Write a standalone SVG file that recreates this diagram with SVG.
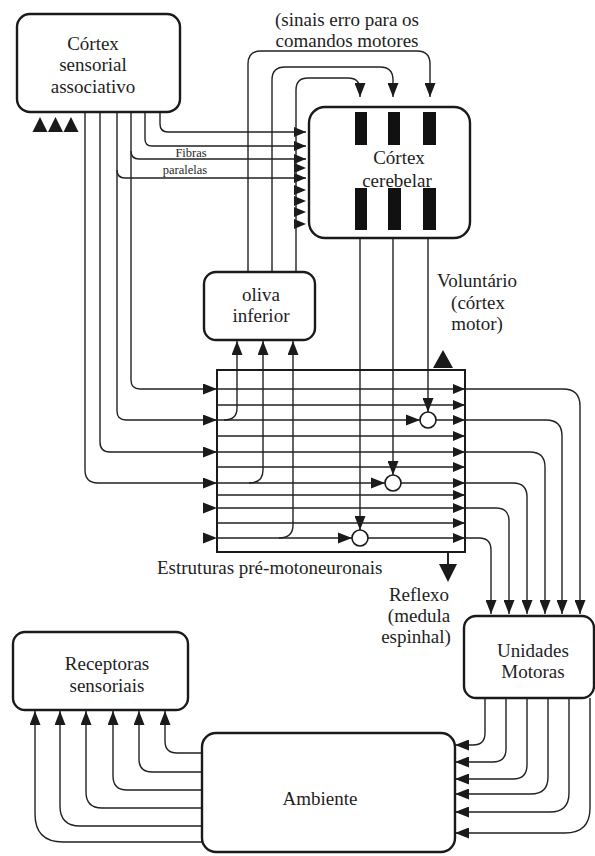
<svg xmlns="http://www.w3.org/2000/svg" xmlns:xlink="http://www.w3.org/1999/xlink" width="595" height="856" viewBox="0 0 595 856">
<style>
.box{fill:#fff;stroke:#1a1a1a;stroke-width:2.4}
.ln{fill:none;stroke:#222;stroke-width:1.4}
.ar{marker-end:url(#a)}
.sa{marker-end:url(#s)}
.t{font-family:"Liberation Serif","Times New Roman",serif;font-size:19px;fill:#1e1e1e;text-anchor:middle}
.sm{font-size:12.5px}
.hd{fill:#1a1a1a}
.bar{fill:#111}
</style>
<defs>
<marker id="a" viewBox="0 0 14 11" refX="14" refY="5.5" markerWidth="14" markerHeight="11" orient="auto" markerUnits="userSpaceOnUse"><path d="M0,0 L14,5.5 L0,11 Z" fill="#1a1a1a"/></marker>
<marker id="s" viewBox="0 0 12 10" refX="12" refY="5" markerWidth="12" markerHeight="10" orient="auto" markerUnits="userSpaceOnUse"><path d="M0,0 L12,5 L0,10 Z" fill="#1a1a1a"/></marker>
<path id="hR" d="M-14,-5.5 L0,0 L-14,5.5 Z"/>
<path id="hRs" d="M-12,-5 L0,0 L-12,5 Z"/>
<path id="hU" d="M-7.5,15 L0,0 L7.5,15 Z"/>
</defs>
<rect width="595" height="856" fill="#fff"/>

<g id="connectors">
  <!-- cortex sensorial outputs -->
  <path class="ln sa" d="M160,112 V124 Q160,132 168,132 H306"/>
  <path class="ln sa" d="M145,112 V139 Q145,146 152,146 H306"/>
  <path class="ln ar" d="M131,112 V380 Q131,389 140,389 H217"/>
  <path class="ln sa" d="M131,151 Q131,159 139,159 H306"/>
  <path class="ln ar" d="M117,112 V411 Q117,420 126,420 H217"/>
  <path class="ln sa" d="M117,170 Q117,178 125,178 H306"/>
  <path class="ln ar" d="M100,112 V442 Q100,452 110,452 H217"/>
  <path class="ln ar" d="M85,112 V470 Q85,483 98,483 H217"/>
  <!-- cerebellar column extra arrowheads -->
  <use href="#hRs" x="306" y="168" class="hd"/>
  <use href="#hRs" x="306" y="190" class="hd"/>
  <use href="#hRs" x="306" y="201" class="hd"/>
  <use href="#hRs" x="306" y="212" class="hd"/>
  <use href="#hRs" x="306" y="224" class="hd"/>
  <!-- oliva outputs (climbing fibres) -->
  <path class="ln ar" d="M248,272 V64 Q248,51 261,51 H417 Q430,51 430,64 V97"/>
  <path class="ln ar" d="M272,272 V80 Q272,67 285,67 H380 Q393,67 393,80 V97"/>
  <path class="ln ar" d="M296,272 V90 Q296,78 308,78 H348 Q360,78 360,90 V97"/>
  <!-- cerebellar outputs -->
  <path class="ln ar" d="M360,238 V530"/>
  <path class="ln ar" d="M393,238 V475"/>
  <path class="ln ar" d="M428,238 V412"/>
  <!-- inputs to oliva from pre-motor structures -->
  <path class="ln ar" d="M224,420 Q237,420 237,408 V341"/>
  <path class="ln ar" d="M249,483 Q263,483 263,470 V341"/>
  <path class="ln ar" d="M279,538 Q293,538 293,525 V341"/>
  <!-- pre-motor outputs to motor units -->
  <path class="ln ar" d="M465,389 H563 Q580,389 580,406 V614"/>
  <path class="ln ar" d="M465,420 H546 Q562,420 562,436 V614"/>
  <path class="ln ar" d="M465,452 H530 Q545,452 545,467 V614"/>
  <path class="ln ar" d="M465,483 H513 Q527,483 527,497 V614"/>
  <path class="ln ar" d="M465,508 H496 Q509,508 509,521 V614"/>
  <path class="ln ar" d="M465,538 H479 Q491,538 491,550 V614"/>
  <!-- reflex down arrow -->
  <path class="ln" d="M448,552 V566" style="stroke-width:2"/>
  <path class="hd" d="M439,564 L457,564 L448,582 Z"/>
  <!-- voluntary up arrow -->
  <path class="hd" d="M433,368 L453,368 L443,350 Z"/>
  <!-- motor units to environment -->
  <path class="ln ar" d="M485,698 V733 Q485,745 473,745 H455"/>
  <path class="ln ar" d="M506,698 V749 Q506,762 493,762 H455"/>
  <path class="ln ar" d="M527,698 V765 Q527,779 513,779 H455"/>
  <path class="ln ar" d="M548,698 V777 Q548,794 531,794 H455"/>
  <path class="ln ar" d="M569,698 V793 Q569,812 550,812 H455"/>
  <path class="ln ar" d="M590,698 V808 Q590,833 565,833 H455"/>
  <!-- environment to receptors -->
  <path class="ln ar" d="M202,753 H177 Q165,753 165,741 V711"/>
  <path class="ln ar" d="M202,772 H152 Q139,772 139,759 V711"/>
  <path class="ln ar" d="M202,790 H127 Q113,790 113,776 V711"/>
  <path class="ln ar" d="M202,808 H102 Q86,808 86,792 V711"/>
  <path class="ln ar" d="M202,826 H80 Q60,826 60,806 V711"/>
  <path class="ln ar" d="M202,842 H63 Q35,842 35,814 V711"/>
</g>

<g id="cortex-sensorial">
  <rect class="box" x="17" y="14" width="163" height="98" rx="13"/>
  <text class="t" x="93" y="50">Córtex</text>
  <text class="t" x="93" y="71">sensorial</text>
  <text class="t" x="93" y="93">associativo</text>
  <use href="#hU" x="40" y="117" class="hd"/>
  <use href="#hU" x="55.5" y="117" class="hd"/>
  <use href="#hU" x="71" y="117" class="hd"/>
</g>

<g id="labels-top">
  <text class="t" x="347" y="26">(sinais erro para os</text>
  <text class="t" x="347" y="47">comandos motores</text>
  <text class="t sm" x="191" y="157">Fibras</text>
  <text class="t sm" x="185" y="174">paralelas</text>
</g>

<g id="cortex-cerebelar">
  <rect class="box" x="309" y="107" width="161" height="131" rx="16"/>
  <rect class="bar" x="355" y="112" width="12" height="33"/>
  <rect class="bar" x="388" y="112" width="12" height="33"/>
  <rect class="bar" x="423" y="112" width="13" height="33"/>
  <rect class="bar" x="355" y="188" width="12" height="42"/>
  <rect class="bar" x="388" y="188" width="13" height="42"/>
  <rect class="bar" x="423" y="188" width="13" height="42"/>
  <text class="t" x="399" y="164">Córtex</text>
  <text class="t" x="397" y="187">cerebelar</text>
</g>

<g id="oliva-inferior">
  <rect class="box" x="204" y="272" width="111" height="68" rx="12"/>
  <text class="t" x="261" y="301">oliva</text>
  <text class="t" x="261" y="322">inferior</text>
</g>

<g id="voluntario">
  <text class="t" x="477" y="287">Voluntário</text>
  <text class="t" x="478" y="309">(córtex</text>
  <text class="t" x="477" y="330">motor)</text>
</g>

<g id="estruturas-pre-motoneuronais">
  <rect x="217" y="370" width="248" height="182" fill="none" stroke="#1a1a1a" stroke-width="2"/>
  <g class="ln">
    <path d="M217,389 H465 M217,405 H465 M217,420 H465 M217,436 H465 M217,452 H465 M217,467 H465 M217,483 H465 M217,495 H465 M217,508 H465 M217,523 H465 M217,538 H465"/>
  </g>
  <use href="#hR" x="217" y="508" class="hd"/>
  <use href="#hR" x="217" y="538" class="hd"/>
  <use href="#hR" x="420" y="420" class="hd"/>
  <use href="#hR" x="385" y="483" class="hd"/>
  <use href="#hR" x="352" y="538" class="hd"/>
  <g class="hd">
    <use href="#hRs" x="465" y="389"/>
    <use href="#hRs" x="465" y="405"/>
    <use href="#hRs" x="465" y="420"/>
    <use href="#hRs" x="465" y="436"/>
    <use href="#hRs" x="465" y="452"/>
    <use href="#hRs" x="465" y="467"/>
    <use href="#hRs" x="465" y="483"/>
    <use href="#hRs" x="465" y="495"/>
    <use href="#hRs" x="465" y="508"/>
    <use href="#hRs" x="465" y="523"/>
    <use href="#hRs" x="465" y="538"/>
  </g>
  <circle cx="428" cy="420" r="8" fill="#fff" stroke="#1a1a1a" stroke-width="1.6"/>
  <circle cx="393" cy="483" r="8" fill="#fff" stroke="#1a1a1a" stroke-width="1.6"/>
  <circle cx="360" cy="538" r="8" fill="#fff" stroke="#1a1a1a" stroke-width="1.6"/>
  <text class="t" x="157" y="574" style="text-anchor:start">Estruturas pré-motoneuronais</text>
</g>

<g id="reflexo">
  <text class="t" x="419" y="601">Reflexo</text>
  <text class="t" x="419" y="622">(medula</text>
  <text class="t" x="416" y="643">espinhal)</text>
</g>

<g id="unidades-motoras">
  <rect class="box" x="464" y="616" width="130" height="82" rx="12"/>
  <text class="t" x="533" y="657">Unidades</text>
  <text class="t" x="533" y="678">Motoras</text>
</g>

<g id="receptoras-sensoriais">
  <rect class="box" x="13" y="632" width="175" height="78" rx="12"/>
  <text class="t" x="107" y="670">Receptoras</text>
  <text class="t" x="107" y="692">sensoriais</text>
</g>

<g id="ambiente">
  <rect class="box" x="202" y="733" width="253" height="119" rx="14"/>
  <text class="t" x="320" y="805">Ambiente</text>
</g>
</svg>
